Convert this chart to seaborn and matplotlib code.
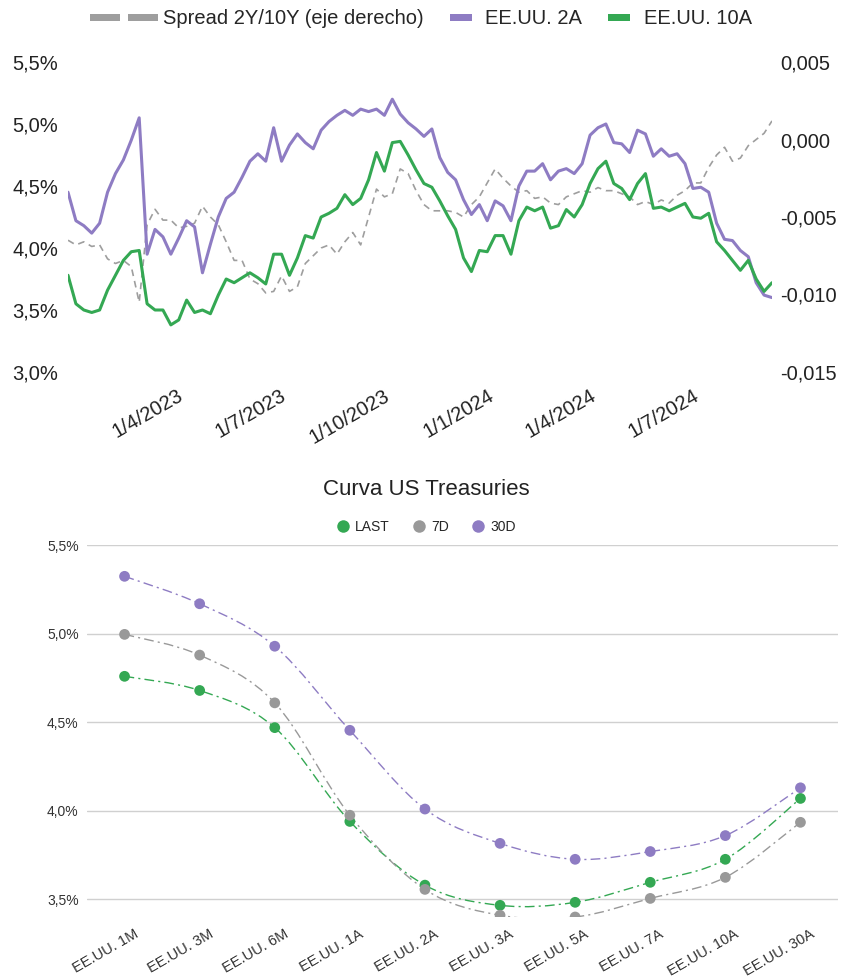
import numpy as np
import pandas as pd
import matplotlib
matplotlib.use("Agg")
import matplotlib.pyplot as plt
import matplotlib.dates as mdates
import matplotlib.transforms as mtransforms
from matplotlib.path import Path
from matplotlib.patches import PathPatch, Rectangle
from matplotlib.lines import Line2D
from matplotlib.legend_handler import HandlerBase
from matplotlib.ticker import FuncFormatter
import seaborn as sns

# ---- datos: cierres semanales dic-2022 .. sep-2024 ----
fechas = pd.date_range("2022-12-26", periods=90, freq="7D")

us2a = [4.45, 4.22, 4.18, 4.12, 4.20, 4.45, 4.60, 4.71, 4.87, 5.05,
        3.95, 4.15, 4.09, 3.95, 4.08, 4.22, 4.17, 3.80, 4.03, 4.25,
        4.40, 4.45, 4.57, 4.70, 4.76, 4.70, 4.97, 4.70, 4.83, 4.92,
        4.85, 4.80, 4.95, 5.02, 5.07, 5.11, 5.07, 5.12, 5.10, 5.12,
        5.07, 5.20, 5.08, 5.01, 4.96, 4.90, 4.96, 4.73, 4.61, 4.55,
        4.39, 4.27, 4.35, 4.22, 4.38, 4.34, 4.22, 4.50, 4.62, 4.62,
        4.68, 4.55, 4.62, 4.64, 4.60, 4.68, 4.91, 4.97, 5.00, 4.85,
        4.84, 4.77, 4.95, 4.92, 4.74, 4.80, 4.74, 4.76, 4.68, 4.48,
        4.49, 4.45, 4.20, 4.07, 4.06, 3.98, 3.93, 3.72, 3.62, 3.60]

us10a = [3.78, 3.55, 3.50, 3.48, 3.50, 3.66, 3.78, 3.90, 3.97, 3.98,
         3.55, 3.50, 3.50, 3.38, 3.42, 3.58, 3.48, 3.50, 3.47, 3.62,
         3.75, 3.72, 3.76, 3.80, 3.76, 3.71, 3.95, 3.95, 3.78, 3.92,
         4.10, 4.08, 4.25, 4.28, 4.32, 4.43, 4.35, 4.40, 4.55, 4.77,
         4.62, 4.85, 4.86, 4.75, 4.63, 4.52, 4.49, 4.38, 4.26, 4.15,
         3.92, 3.81, 3.98, 3.97, 4.10, 4.10, 3.95, 4.22, 4.33, 4.30,
         4.33, 4.16, 4.18, 4.31, 4.25, 4.35, 4.52, 4.64, 4.70, 4.52,
         4.48, 4.39, 4.52, 4.60, 4.32, 4.33, 4.30, 4.33, 4.36, 4.25,
         4.24, 4.28, 4.05, 3.98, 3.90, 3.82, 3.90, 3.75, 3.65, 3.72]

spread = [-0.0065, -0.0068, -0.0066, -0.0069, -0.0068, -0.0077, -0.0080, -0.0078, -0.0082, -0.0105,
          -0.0055, -0.0045, -0.0052, -0.0052, -0.0057, -0.0056, -0.0054, -0.0043, -0.0050, -0.0055,
          -0.0066, -0.0078, -0.0078, -0.0090, -0.0093, -0.0099, -0.0098, -0.0088, -0.0098, -0.0095,
          -0.0080, -0.0075, -0.0070, -0.0068, -0.0074, -0.0066, -0.0060, -0.0068, -0.0050, -0.0032,
          -0.0037, -0.0035, -0.0019, -0.0022, -0.0033, -0.0042, -0.0046, -0.0046, -0.0046, -0.0047,
          -0.0050, -0.0042, -0.0037, -0.0028, -0.0019, -0.0025, -0.0030, -0.0034, -0.0033, -0.0038,
          -0.0037, -0.0041, -0.0042, -0.0037, -0.0035, -0.0033, -0.0034, -0.0031, -0.0033, -0.0033,
          -0.0035, -0.0037, -0.0042, -0.0040, -0.0042, -0.0039, -0.0041, -0.0036, -0.0033, -0.0028,
          -0.0028, -0.0018, -0.0010, -0.0005, -0.0014, -0.0012, -0.0004, 0.0000, 0.0004, 0.0012]

fechas_ticks = ["2023-04-01", "2023-07-01", "2023-10-01", "2024-01-01", "2024-04-01", "2024-07-01"]

tramos = ["EE.UU. 1M", "EE.UU. 3M", "EE.UU. 6M", "EE.UU. 1A", "EE.UU. 2A",
          "EE.UU. 3A", "EE.UU. 5A", "EE.UU. 7A", "EE.UU. 10A", "EE.UU. 30A"]
curva_last = [4.76, 4.68, 4.47, 3.94, 3.58, 3.466, 3.483, 3.596, 3.726, 4.07]
curva_7d = [4.997, 4.88, 4.61, 3.975, 3.556, 3.41, 3.40, 3.505, 3.624, 3.935]
curva_30d = [5.325, 5.17, 4.93, 4.455, 4.01, 3.816, 3.726, 3.77, 3.86, 4.13]

VERDE = "#34a853"
MORADO = "#8e7cc3"
GRIS = "#999999"

sns.set_theme(style="white")
plt.rcParams["font.family"] = ["Liberation Sans", "DejaVu Sans"]

W, H = 854, 977
fig = plt.figure(figsize=(W / 100, H / 100), dpi=100)


def caja(x0, y0, x1, y1):
    # pixel box -> figure fraction
    return [x0 / W, 1 - y1 / H, (x1 - x0) / W, (y1 - y0) / H]


# =============== arriba: 2A / 10A / spread ===============
ax = fig.add_axes(caja(68, 62, 772, 372))
ax2 = ax.twinx()
ax.set_zorder(ax2.get_zorder() + 1)
ax.patch.set_visible(False)

df = pd.DataFrame({"fecha": list(fechas) * 2,
                   "valor": us2a + us10a,
                   "serie": ["EE.UU. 2A"] * len(fechas) + ["EE.UU. 10A"] * len(fechas)})
sns.lineplot(data=df, x="fecha", y="valor", hue="serie",
             palette={"EE.UU. 2A": MORADO, "EE.UU. 10A": VERDE},
             linewidth=2.2, legend=False, ax=ax)
sns.lineplot(x=fechas, y=spread, color="#9e9e9e", linewidth=1.2,
             linestyle=(0, (4, 3)), ax=ax2)

ax.set_xlim(fechas[0], fechas[-1])
ax.set_ylim(3.0, 5.5)
ax.set_yticks(np.arange(3.0, 5.51, 0.5))
ax.yaxis.set_major_formatter(FuncFormatter(lambda v, p: f"{v:.1f}%".replace(".", ",")))
ax2.set_ylim(-0.015, 0.005)
ax2.set_yticks(np.arange(-0.015, 0.0051, 0.005))
ax2.yaxis.set_major_formatter(FuncFormatter(lambda v, p: f"{round(v, 4) + 0:.3f}".replace(".", ",")))

ticks = pd.to_datetime(fechas_ticks)
ax.set_xticks(mdates.date2num(ticks))
ax.set_xticklabels([f"{d.day}/{d.month}/{d.year}" for d in ticks])
for a in (ax, ax2):
    a.set_xlabel("")
    a.set_ylabel("")
    for s in a.spines.values():
        s.set_visible(False)
ax.tick_params(axis="y", length=0, pad=7, labelsize=14.5, labelcolor="#222222")
ax2.tick_params(axis="y", length=0, pad=6, labelsize=14.5, labelcolor="#222222")
ax.tick_params(axis="x", length=0, pad=10, labelsize=14.5, labelcolor="#222222")
desp = mtransforms.ScaledTranslation(0.0, 0, fig.dpi_scale_trans)
for lab in ax.get_xticklabels():
    lab.set_rotation(30)
    lab.set_ha("right")
    lab.set_va("top")
    lab.set_rotation_mode("anchor")
    lab.set_transform(lab.get_transform() + desp)


class Barras(HandlerBase):
    # legend key drawn as flat bars, positions in px relative to handle box
    def __init__(self, trozos):
        super().__init__()
        self.trozos = trozos

    def create_artists(self, legend, orig_handle, xdescent, ydescent,
                       width, height, fontsize, trans):
        arts = []
        for x0, w in self.trozos:
            r = Rectangle((x0 * 0.72 - xdescent, height / 2 - 2.2 - ydescent), w * 0.72, 4.4,
                          facecolor=orig_handle.get_color(), edgecolor="none", transform=trans)
            arts.append(r)
        return arts


h_spread = Line2D([], [], color="#9e9e9e")
h_2a = Line2D([], [], color=MORADO)
h_10a = Line2D([], [], color=VERDE)
fig.legend([h_spread, h_2a, h_10a],
           ["Spread 2Y/10Y (eje derecho)", "EE.UU. 2A", "EE.UU. 10A"],
           handler_map={h_spread: Barras([(-38, 30), (0, 30)]),
                        h_2a: Barras([(0, 22)]),
                        h_10a: Barras([(0, 22)])},
           loc="center left", bbox_to_anchor=(128 / W, 1 - 19 / H), ncol=3,
           frameon=False, fontsize=14.5, handlelength=1.05, handletextpad=0.7,
           columnspacing=1.3, borderpad=0, borderaxespad=0)

# =============== abajo: curva ===============
bx = fig.add_axes(caja(87, 545, 838, 917))
xs = np.arange(len(tramos))


def curva_suave(xv, yv):
    pts = np.column_stack([xv, yv]).astype(float)
    ext = np.vstack([pts[0], pts, pts[-1]])
    verts = [pts[0]]
    codes = [Path.MOVETO]
    for i in range(1, len(ext) - 2):
        p0, p1, p2, p3 = ext[i - 1], ext[i], ext[i + 1], ext[i + 2]
        verts += [p1 + (p2 - p0) / 6, p2 - (p3 - p1) / 6, p2]
        codes += [Path.CURVE4] * 3
    return Path(verts, codes)


curvas = pd.DataFrame({"tramo": np.tile(xs, 3),
                       "yield": curva_last + curva_7d + curva_30d,
                       "serie": ["LAST"] * 10 + ["7D"] * 10 + ["30D"] * 10})
colores = {"LAST": VERDE, "7D": GRIS, "30D": MORADO}
for nombre, vals in [("LAST", curva_last), ("7D", curva_7d), ("30D", curva_30d)]:
    bx.add_patch(PathPatch(curva_suave(xs, vals), fill=False, edgecolor=colores[nombre],
                           linewidth=1.0, linestyle=(0, (7, 3, 1.5, 3)), zorder=2))
    sns.scatterplot(data=curvas[curvas["serie"] == nombre], x="tramo", y="yield",
                    color=colores[nombre], s=60, edgecolor="none", legend=False,
                    zorder=3, ax=bx)

bx.set_xlim(-0.5, 9.5)
bx.set_ylim(3.40, 5.502)
bx.set_yticks([3.5, 4.0, 4.5, 5.0, 5.5])
bx.yaxis.set_major_formatter(FuncFormatter(lambda v, p: f"{v:.1f}%".replace(".", ",")))
bx.set_xticks(xs)
bx.set_xticklabels(tramos)
bx.set_xlabel("")
bx.set_ylabel("")
bx.grid(axis="y", color="#d0d0d0", linewidth=1.0)
bx.grid(axis="x", visible=False)
bx.set_axisbelow(True)
for s in bx.spines.values():
    s.set_visible(False)
bx.tick_params(axis="y", length=0, pad=6, labelsize=10, labelcolor="#333333")
bx.tick_params(axis="x", length=0, pad=7, labelsize=10.5, labelcolor="#333333")
desp2 = mtransforms.ScaledTranslation(0.09, 0, fig.dpi_scale_trans)
for lab in bx.get_xticklabels():
    lab.set_rotation(30)
    lab.set_ha("right")
    lab.set_va("top")
    lab.set_rotation_mode("anchor")
    lab.set_transform(lab.get_transform() + desp2)

fig.text(426 / W, 1 - 490 / H, "Curva US Treasuries", ha="center", va="center",
         fontsize=16, color="#222222")
marcas = [Line2D([], [], linestyle="", marker="o", markersize=9, color=colores[k],
                 markeredgewidth=0) for k in ["LAST", "7D", "30D"]]
fig.legend(marcas, ["LAST", "7D", "30D"], loc="center", bbox_to_anchor=(426 / W, 1 - 527 / H),
           ncol=3, frameon=False, fontsize=10, handlelength=1.0, handletextpad=0.4,
           columnspacing=1.6, borderpad=0)

fig.savefig("out.png", dpi=100)
